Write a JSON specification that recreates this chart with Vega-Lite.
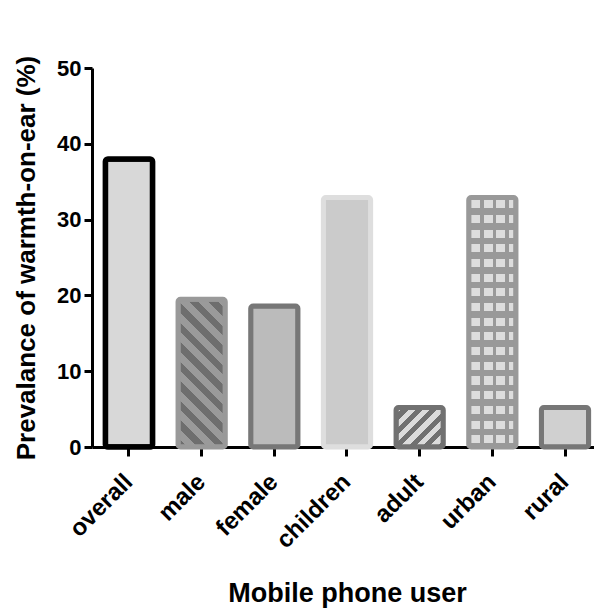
{
  "$schema": "https://vega.github.io/schema/vega-lite/v6.json",
  "autosize": {"type": "none"},
  "padding": {"left": 92, "top": 68, "right": 0, "bottom": 164},
  "width": 502,
  "height": 379,
  "background": "white",
  "data": {"values": [
    {"user": "overall", "prevalence": 38.0},
    {"user": "male", "prevalence": 19.5},
    {"user": "female", "prevalence": 18.6},
    {"user": "children", "prevalence": 32.9},
    {"user": "adult", "prevalence": 5.2},
    {"user": "urban", "prevalence": 32.9},
    {"user": "rural", "prevalence": 5.2}
  ]},
  "encoding": {
    "x": {
      "field": "user", "type": "nominal", "sort": null,
      "scale": {"domain": ["overall", "male", "female", "children", "adult", "urban", "rural"], "range": [0, 510], "paddingInner": 0.35, "paddingOuter": 0.184},
      "axis": {"title": "Mobile phone user", "labelAngle": -45, "labelAlign": "right", "labelBaseline": "middle", "labelFontSize": 24, "labelPadding": 22, "tickSize": 9, "titlePadding": 28, "titleFontSize": 27}
    },
    "y": {
      "field": "prevalence", "type": "quantitative",
      "scale": {"domain": [0, 50], "nice": false},
      "axis": {"title": "Prevalance of warmth-on-ear (%)", "values": [0, 10, 20, 30, 40, 50], "labelFontSize": 22, "labelPadding": 3, "tickSize": 8, "titlePadding": 17, "titleFontSize": 26}
    }
  },
  "layer": [
    {
      "mark": {"type": "bar", "cornerRadius": 2},
      "encoding": {
        "fill": {"field": "user", "type": "nominal", "legend": null,
          "scale": {"domain": ["overall", "male", "female", "children", "adult", "urban", "rural"],
                    "range": ["#d8d8d8", "#848484", "#bbbbbb", "#cbcbcb", "#a8a8a8", "#bdbdbd", "#d0d0d0"]}}
      }
    },
    {
      "transform": [{"filter": "datum.user === 'male'"}],
      "mark": {"type": "bar", "cornerRadius": 2, "fill": {"gradient": "linear", "x1": 0, "y1": 1, "x2": 0.3826, "y2": -0.197, "stops": [
        {"offset": 0, "color": "#6e6e6e"}, {"offset": 0.05, "color": "#6e6e6e"}, {"offset": 0.05, "color": "#9a9a9a"}, {"offset": 0.1, "color": "#9a9a9a"},
        {"offset": 0.1, "color": "#6e6e6e"}, {"offset": 0.15, "color": "#6e6e6e"}, {"offset": 0.15, "color": "#9a9a9a"}, {"offset": 0.2, "color": "#9a9a9a"},
        {"offset": 0.2, "color": "#6e6e6e"}, {"offset": 0.25, "color": "#6e6e6e"}, {"offset": 0.25, "color": "#9a9a9a"}, {"offset": 0.3, "color": "#9a9a9a"},
        {"offset": 0.3, "color": "#6e6e6e"}, {"offset": 0.35, "color": "#6e6e6e"}, {"offset": 0.35, "color": "#9a9a9a"}, {"offset": 0.4, "color": "#9a9a9a"},
        {"offset": 0.4, "color": "#6e6e6e"}, {"offset": 0.45, "color": "#6e6e6e"}, {"offset": 0.45, "color": "#9a9a9a"}, {"offset": 0.5, "color": "#9a9a9a"},
        {"offset": 0.5, "color": "#6e6e6e"}, {"offset": 0.55, "color": "#6e6e6e"}, {"offset": 0.55, "color": "#9a9a9a"}, {"offset": 0.6, "color": "#9a9a9a"},
        {"offset": 0.6, "color": "#6e6e6e"}, {"offset": 0.65, "color": "#6e6e6e"}, {"offset": 0.65, "color": "#9a9a9a"}, {"offset": 0.7, "color": "#9a9a9a"},
        {"offset": 0.7, "color": "#6e6e6e"}, {"offset": 0.75, "color": "#6e6e6e"}, {"offset": 0.75, "color": "#9a9a9a"}, {"offset": 0.8, "color": "#9a9a9a"},
        {"offset": 0.8, "color": "#6e6e6e"}, {"offset": 0.85, "color": "#6e6e6e"}, {"offset": 0.85, "color": "#9a9a9a"}, {"offset": 0.9, "color": "#9a9a9a"},
        {"offset": 0.9, "color": "#6e6e6e"}, {"offset": 0.95, "color": "#6e6e6e"}, {"offset": 0.95, "color": "#9a9a9a"}, {"offset": 1, "color": "#9a9a9a"}
      ]}}
    },
    {
      "transform": [{"filter": "datum.user === 'adult'"}],
      "mark": {"type": "bar", "cornerRadius": 2, "fill": {"gradient": "linear", "x1": 0, "y1": 0, "x2": 1.0816, "y2": 0.9021, "stops": [
        {"offset": 0, "color": "#dcdcdc"}, {"offset": 0.0833, "color": "#dcdcdc"}, {"offset": 0.0833, "color": "#717171"}, {"offset": 0.1667, "color": "#717171"},
        {"offset": 0.1667, "color": "#dcdcdc"}, {"offset": 0.25, "color": "#dcdcdc"}, {"offset": 0.25, "color": "#717171"}, {"offset": 0.3333, "color": "#717171"},
        {"offset": 0.3333, "color": "#dcdcdc"}, {"offset": 0.4167, "color": "#dcdcdc"}, {"offset": 0.4167, "color": "#717171"}, {"offset": 0.5, "color": "#717171"},
        {"offset": 0.5, "color": "#dcdcdc"}, {"offset": 0.5833, "color": "#dcdcdc"}, {"offset": 0.5833, "color": "#717171"}, {"offset": 0.6667, "color": "#717171"},
        {"offset": 0.6667, "color": "#dcdcdc"}, {"offset": 0.75, "color": "#dcdcdc"}, {"offset": 0.75, "color": "#717171"}, {"offset": 0.8333, "color": "#717171"},
        {"offset": 0.8333, "color": "#dcdcdc"}, {"offset": 0.9167, "color": "#dcdcdc"}, {"offset": 0.9167, "color": "#717171"}, {"offset": 1, "color": "#717171"}
      ]}}
    },
    {
      "transform": [{"filter": "datum.user === 'urban'"}],
      "mark": {"type": "bar", "cornerRadius": 2, "fill": {"gradient": "linear", "x1": 0, "y1": 0, "x2": 1, "y2": 0, "stops": [
        {"offset": 0, "color": "#999999"}, {"offset": 0.0529, "color": "#999999"}, {"offset": 0.0529, "color": "#dddddd"}, {"offset": 0.2434, "color": "#dddddd"},
        {"offset": 0.2434, "color": "#999999"}, {"offset": 0.3175, "color": "#999999"}, {"offset": 0.3175, "color": "#dddddd"}, {"offset": 0.508, "color": "#dddddd"},
        {"offset": 0.508, "color": "#999999"}, {"offset": 0.5821, "color": "#999999"}, {"offset": 0.5821, "color": "#dddddd"}, {"offset": 0.7727, "color": "#dddddd"},
        {"offset": 0.7727, "color": "#999999"}, {"offset": 0.8467, "color": "#999999"}, {"offset": 0.8467, "color": "#dddddd"}, {"offset": 1, "color": "#dddddd"}
      ]}}
    },
    {
      "transform": [{"filter": "datum.user === 'urban'"}],
      "mark": {"type": "bar", "cornerRadius": 2, "fill": {"gradient": "linear", "x1": 0, "y1": 0, "x2": 0, "y2": 1, "stops": [
        {"offset": 0, "color": "#999999"}, {"offset": 0.01, "color": "#999999"}, {"offset": 0.01, "color": "rgba(153,153,153,0)"}, {"offset": 0.0421, "color": "rgba(153,153,153,0)"},
        {"offset": 0.0421, "color": "#999999"}, {"offset": 0.069, "color": "#999999"}, {"offset": 0.069, "color": "rgba(153,153,153,0)"}, {"offset": 0.101, "color": "rgba(153,153,153,0)"},
        {"offset": 0.101, "color": "#999999"}, {"offset": 0.1279, "color": "#999999"}, {"offset": 0.1279, "color": "rgba(153,153,153,0)"}, {"offset": 0.16, "color": "rgba(153,153,153,0)"},
        {"offset": 0.16, "color": "#999999"}, {"offset": 0.1868, "color": "#999999"}, {"offset": 0.1868, "color": "rgba(153,153,153,0)"}, {"offset": 0.2189, "color": "rgba(153,153,153,0)"},
        {"offset": 0.2189, "color": "#999999"}, {"offset": 0.2458, "color": "#999999"}, {"offset": 0.2458, "color": "rgba(153,153,153,0)"}, {"offset": 0.2779, "color": "rgba(153,153,153,0)"},
        {"offset": 0.2779, "color": "#999999"}, {"offset": 0.3047, "color": "#999999"}, {"offset": 0.3047, "color": "rgba(153,153,153,0)"}, {"offset": 0.3368, "color": "rgba(153,153,153,0)"},
        {"offset": 0.3368, "color": "#999999"}, {"offset": 0.3637, "color": "#999999"}, {"offset": 0.3637, "color": "rgba(153,153,153,0)"}, {"offset": 0.3957, "color": "rgba(153,153,153,0)"},
        {"offset": 0.3957, "color": "#999999"}, {"offset": 0.4226, "color": "#999999"}, {"offset": 0.4226, "color": "rgba(153,153,153,0)"}, {"offset": 0.4547, "color": "rgba(153,153,153,0)"},
        {"offset": 0.4547, "color": "#999999"}, {"offset": 0.4816, "color": "#999999"}, {"offset": 0.4816, "color": "rgba(153,153,153,0)"}, {"offset": 0.5136, "color": "rgba(153,153,153,0)"},
        {"offset": 0.5136, "color": "#999999"}, {"offset": 0.5405, "color": "#999999"}, {"offset": 0.5405, "color": "rgba(153,153,153,0)"}, {"offset": 0.5726, "color": "rgba(153,153,153,0)"},
        {"offset": 0.5726, "color": "#999999"}, {"offset": 0.5994, "color": "#999999"}, {"offset": 0.5994, "color": "rgba(153,153,153,0)"}, {"offset": 0.6315, "color": "rgba(153,153,153,0)"},
        {"offset": 0.6315, "color": "#999999"}, {"offset": 0.6584, "color": "#999999"}, {"offset": 0.6584, "color": "rgba(153,153,153,0)"}, {"offset": 0.6905, "color": "rgba(153,153,153,0)"},
        {"offset": 0.6905, "color": "#999999"}, {"offset": 0.7173, "color": "#999999"}, {"offset": 0.7173, "color": "rgba(153,153,153,0)"}, {"offset": 0.7494, "color": "rgba(153,153,153,0)"},
        {"offset": 0.7494, "color": "#999999"}, {"offset": 0.7763, "color": "#999999"}, {"offset": 0.7763, "color": "rgba(153,153,153,0)"}, {"offset": 0.8083, "color": "rgba(153,153,153,0)"},
        {"offset": 0.8083, "color": "#999999"}, {"offset": 0.8352, "color": "#999999"}, {"offset": 0.8352, "color": "rgba(153,153,153,0)"}, {"offset": 0.8673, "color": "rgba(153,153,153,0)"},
        {"offset": 0.8673, "color": "#999999"}, {"offset": 0.8941, "color": "#999999"}, {"offset": 0.8941, "color": "rgba(153,153,153,0)"}, {"offset": 0.9262, "color": "rgba(153,153,153,0)"},
        {"offset": 0.9262, "color": "#999999"}, {"offset": 0.9531, "color": "#999999"}, {"offset": 0.9531, "color": "rgba(153,153,153,0)"}, {"offset": 0.9852, "color": "rgba(153,153,153,0)"},
        {"offset": 0.9852, "color": "#999999"}, {"offset": 1, "color": "#999999"}
      ]}}
    },
    {
      "mark": {"type": "bar", "cornerRadius": 2.5, "fillOpacity": 0},
      "encoding": {
        "stroke": {"field": "user", "type": "nominal", "legend": null,
          "scale": {"domain": ["overall", "male", "female", "children", "adult", "urban", "rural"],
                    "range": ["#000000", "#999999", "#777777", "#dedede", "#717171", "#999999", "#777777"]}},
        "strokeWidth": {"condition": {"test": "datum.user === 'overall'", "value": 5.5}, "value": 5}
      }
    }
  ],
  "config": {
    "view": {"stroke": null},
    "axis": {
      "grid": false,
      "domainColor": "#000000", "domainWidth": 3,
      "tickColor": "#000000", "tickWidth": 3,
      "labelFont": "Liberation Sans", "labelFontWeight": "bold", "labelColor": "#000000",
      "titleFont": "Liberation Sans", "titleFontWeight": "bold", "titleColor": "#000000"
    }
  }
}
